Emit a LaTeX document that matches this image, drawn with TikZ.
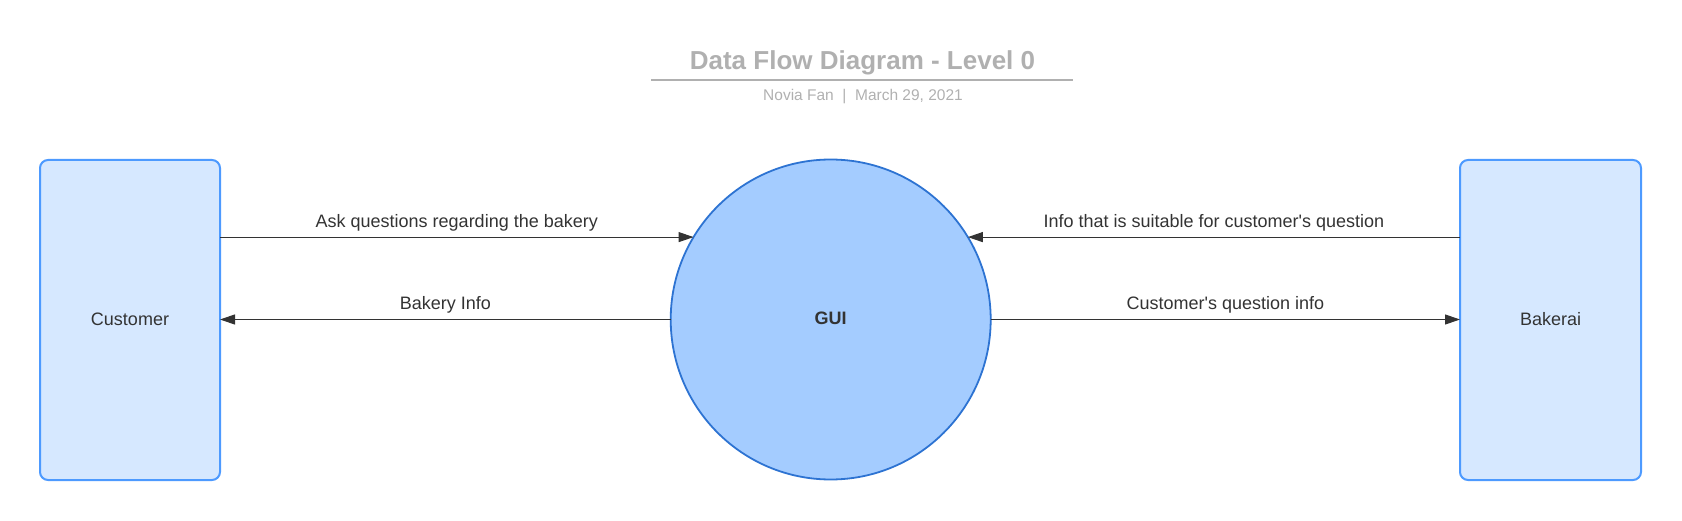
\documentclass[tikz,border=0pt]{standalone}
\usepackage{fontspec}
\setmainfont{Liberation Sans}
\usetikzlibrary{arrows.meta}
\definecolor{boxfill}{RGB}{214,232,255}
\definecolor{boxline}{RGB}{77,154,255}
\definecolor{circfill}{RGB}{164,204,255}
\definecolor{circline}{RGB}{45,115,210}
\definecolor{ink}{RGB}{51,51,51}
\definecolor{titlegray}{RGB}{176,176,176}
\tikzset{
  entity/.style={draw=boxline, fill=boxfill, line width=2pt, rounded corners=8pt,
    minimum width=180pt, minimum height=320pt, outer sep=0pt, inner sep=0pt,
    font=\fontsize{18}{21}\selectfont, text=ink},
  process/.style={circle, draw=circline, fill=circfill, line width=1.8pt,
    minimum size=320pt, outer sep=0pt, inner sep=0pt,
    font=\fontsize{18}{21}\selectfont\bfseries, text=ink},
  flow/.style={draw=ink, line width=1.1pt, -{Triangle[length=15pt,width=10pt]}},
  flowlabel/.style={midway, anchor=base, yshift=10pt, inner sep=0pt,
    font=\fontsize{18}{21}\selectfont, text=ink},
}
\begin{document}
\begin{tikzpicture}[x=1pt,y=1pt]
\useasboundingbox (0,0) rectangle (1682,520);
% title
\node[anchor=base, font=\fontsize{26}{30}\selectfont\bfseries, text=titlegray, inner sep=0pt]
  (title) at (862.5,450.7) {Data Flow Diagram - Level 0};
\coordinate (ulA) at (651,440);
\coordinate (ulB) at (1073,440);
\draw[titlegray, line width=2pt] (ulA) -- (ulB);
\node[anchor=base, font=\fontsize{15.5}{18}\selectfont, text=titlegray, inner sep=0pt]
  (sub) at (863,419.3) {Novia Fan\ \ |\ \ March 29, 2021};
% nodes
\node[entity] (cust) at (130,200) {\raisebox{2pt}{Customer}};
\node[entity, minimum width=181pt] (bak) at (1550.5,200) {\raisebox{2pt}{Bakerai}};
\node[process] (gui) at (830.7,200.5) {\raisebox{2pt}{GUI}};
% flows
\draw[flow] (gui.149 -| cust.east) -- (gui.149)
  node[flowlabel] {Ask questions regarding the bakery};
\draw[flow] (gui.west) -- (gui.west -| cust.east)
  node[flowlabel] {Bakery Info};
\draw[flow] (gui.31.75 -| bak.west) -- (gui.31.75)
  node[flowlabel] {Info that is suitable for customer\textquotesingle s question};
\draw[flow] (gui.east) -- (gui.east -| bak.west)
  node[flowlabel] {Customer\textquotesingle s question info};
\end{tikzpicture}
\end{document}
